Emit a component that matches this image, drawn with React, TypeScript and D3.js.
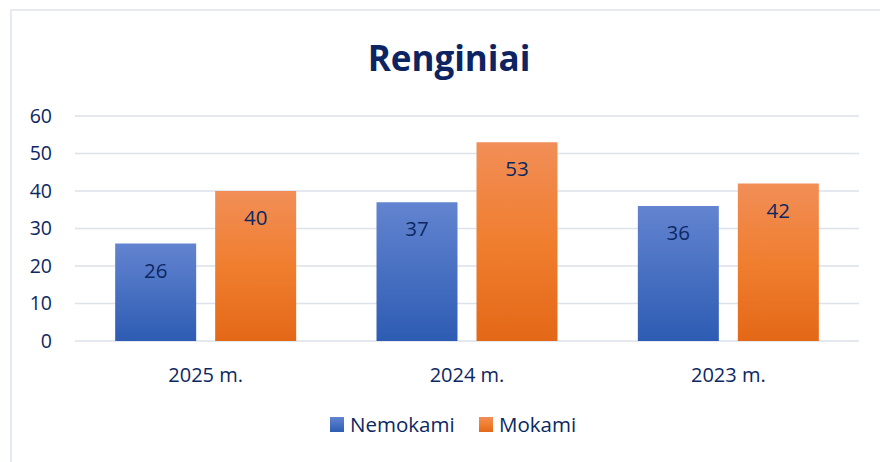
import * as d3 from 'd3';
import React from 'react';

// chart data
const categories = ['2025 m.', '2024 m.', '2023 m.'];
const seriesNames = ['Nemokami', 'Mokami'];
const nemokami = [26, 37, 36];
const mokami = [40, 53, 42];
const yTicks = [0, 10, 20, 30, 40, 50, 60];

const W = 880;
const H = 462;
const margin = { left: 75, right: 21, top: 116, bottom: 121 };
const textColor = '#0c2862';
const font = "'Open Sans', sans-serif";

export default function App() {
  const x = d3.scaleBand<string>()
    .domain(categories)
    .range([margin.left, W - margin.right]);
  const y = d3.scaleLinear().domain([0, 60]).range([H - margin.bottom, margin.top]);

  const barW = 81;
  const gap = 19;
  const values = [nemokami, mokami];
  const grads = ['gBlue', 'gOrange'];

  return (
    <svg width={W} height={H} style={{ position: 'absolute', left: 0, top: 0, background: '#fff' }}>
      <defs>
        <linearGradient id="gBlue" x1="0" y1="0" x2="0" y2="1">
          <stop offset="0%" stopColor="#6384d0" />
          <stop offset="100%" stopColor="#2d5cb3" />
        </linearGradient>
        <linearGradient id="gOrange" x1="0" y1="0" x2="0" y2="1">
          <stop offset="0%" stopColor="#f18e57" />
          <stop offset="50%" stopColor="#f07e2f" />
          <stop offset="100%" stopColor="#e36817" />
        </linearGradient>
      </defs>
      <rect x={11} y={10} width={W} height={H} fill="none" stroke="#dfe3ec" strokeWidth={1.5} />

      <text x={449} y={71} textAnchor="middle" fontFamily={font} fontWeight="bold" fontSize={35} fill="#0c2461">
        Renginiai
      </text>

      {/* gridlines and y tick labels */}
      {yTicks.map(t => (
        <g key={t}>
          <line x1={margin.left} x2={W - margin.right} y1={y(t)} y2={y(t)} stroke="#dde2ea" strokeWidth={1.5} />
          <text x={52} y={y(t)} dy="0.35em" textAnchor="end" fontFamily={font} fontSize={19.5} fill={textColor}>{t}</text>
        </g>
      ))}

      {/* bars */}
      {categories.map((c, i) => {
        const cx = (x(c) as number) + x.bandwidth() / 2;
        return (
          <g key={c}>
            {values.map((vals, s) => {
              const bx = s === 0 ? cx - gap / 2 - barW : cx + gap / 2;
              const v = vals[i];
              return (
                <g key={s}>
                  <rect x={bx} y={y(v)} width={barW} height={y(0) - y(v)} fill={`url(#${grads[s]})`} />
                  <text x={bx + barW / 2} y={y(v) + 34} textAnchor="middle" fontFamily={font} fontSize={20.5} fill={textColor}>{v}</text>
                </g>
              );
            })}
            <text x={cx} y={382} textAnchor="middle" fontFamily={font} fontSize={20} fill={textColor}>{c}</text>
          </g>
        );
      })}

      {/* legend */}
      {seriesNames.map((n, s) => {
        const lx = s === 0 ? 330 : 479;
        return (
          <g key={n}>
            <rect x={lx} y={417} width={14} height={15} fill={`url(#${grads[s]})`} />
            <text x={lx + 20} y={432} fontFamily={font} fontSize={20.5} fill={textColor}>{n}</text>
          </g>
        );
      })}
    </svg>
  );
}
